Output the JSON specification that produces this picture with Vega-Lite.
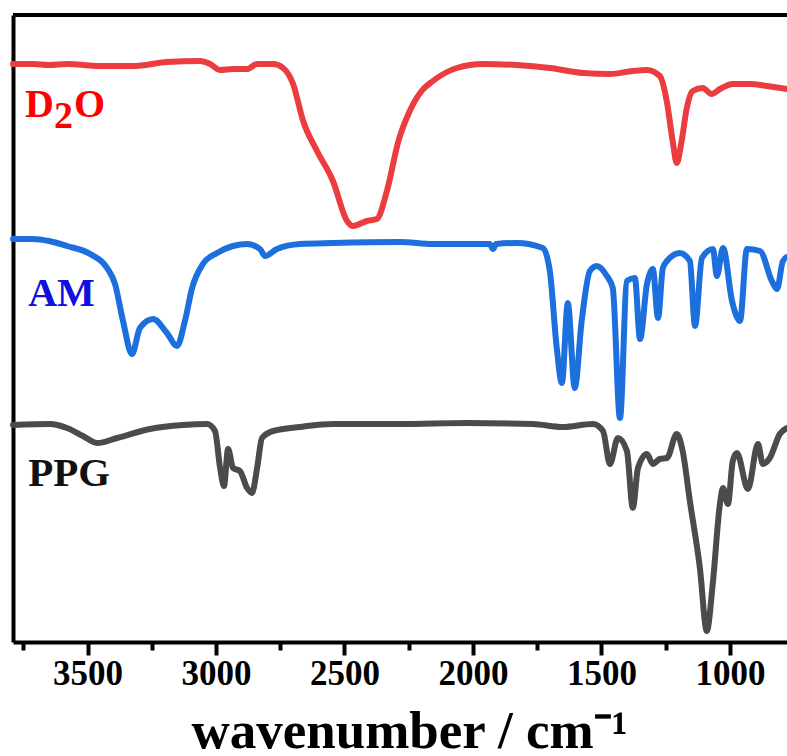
{
  "$schema": "https://vega.github.io/schema/vega-lite/v6.json",
  "width": 774,
  "height": 627,
  "autosize": {"type": "none"},
  "padding": {"left": 13, "top": 15, "right": 0, "bottom": 114},
  "background": "white",
  "config": {"view": {"stroke": null}, "axis": {"grid": false}},
  "datasets": {
    "spectra": [
      {"s":"D2O","w":3790,"v":578},{"s":"D2O","w":3712,"v":578},{"s":"D2O","w":3650,"v":577},{"s":"D2O","w":3580,"v":578},{"s":"D2O","w":3451,"v":576},{"s":"D2O","w":3323,"v":576},{"s":"D2O","w":3191,"v":580},{"s":"D2O","w":3062,"v":581},{"s":"D2O","w":3023,"v":578},{"s":"D2O","w":2984,"v":572},{"s":"D2O","w":2934,"v":573},{"s":"D2O","w":2879,"v":573},{"s":"D2O","w":2840,"v":578},{"s":"D2O","w":2778,"v":578},{"s":"D2O","w":2739,"v":574},{"s":"D2O","w":2700,"v":558},{"s":"D2O","w":2661,"v":521},{"s":"D2O","w":2607,"v":491},{"s":"D2O","w":2545,"v":461},{"s":"D2O","w":2490,"v":421},{"s":"D2O","w":2467,"v":416},{"s":"D2O","w":2413,"v":421},{"s":"D2O","w":2374,"v":423},{"s":"D2O","w":2335,"v":451},{"s":"D2O","w":2290,"v":501},{"s":"D2O","w":2246,"v":531},{"s":"D2O","w":2200,"v":551},{"s":"D2O","w":2156,"v":561},{"s":"D2O","w":2063,"v":574},{"s":"D2O","w":1961,"v":578},{"s":"D2O","w":1829,"v":577},{"s":"D2O","w":1701,"v":574},{"s":"D2O","w":1572,"v":569},{"s":"D2O","w":1467,"v":568},{"s":"D2O","w":1378,"v":571},{"s":"D2O","w":1323,"v":572},{"s":"D2O","w":1273,"v":566},{"s":"D2O","w":1246,"v":541},{"s":"D2O","w":1223,"v":501},{"s":"D2O","w":1207,"v":479},{"s":"D2O","w":1188,"v":501},{"s":"D2O","w":1168,"v":534},{"s":"D2O","w":1145,"v":551},{"s":"D2O","w":1106,"v":554},{"s":"D2O","w":1071,"v":548},{"s":"D2O","w":1039,"v":553},{"s":"D2O","w":989,"v":558},{"s":"D2O","w":922,"v":558},{"s":"D2O","w":856,"v":556},{"s":"D2O","w":778,"v":553},
      {"s":"AM","w":3790,"v":403},{"s":"AM","w":3712,"v":403},{"s":"AM","w":3650,"v":401},{"s":"AM","w":3580,"v":396},{"s":"AM","w":3490,"v":388},{"s":"AM","w":3424,"v":374},{"s":"AM","w":3393,"v":358},{"s":"AM","w":3362,"v":321},{"s":"AM","w":3327,"v":288},{"s":"AM","w":3296,"v":314},{"s":"AM","w":3245,"v":323},{"s":"AM","w":3191,"v":309},{"s":"AM","w":3152,"v":296},{"s":"AM","w":3121,"v":321},{"s":"AM","w":3093,"v":354},{"s":"AM","w":3051,"v":378},{"s":"AM","w":2996,"v":389},{"s":"AM","w":2934,"v":396},{"s":"AM","w":2879,"v":398},{"s":"AM","w":2829,"v":393},{"s":"AM","w":2809,"v":386},{"s":"AM","w":2763,"v":393},{"s":"AM","w":2673,"v":398},{"s":"AM","w":2545,"v":399},{"s":"AM","w":2284,"v":400},{"s":"AM","w":2156,"v":398},{"s":"AM","w":1935,"v":398},{"s":"AM","w":1922,"v":393},{"s":"AM","w":1910,"v":398},{"s":"AM","w":1829,"v":399},{"s":"AM","w":1728,"v":394},{"s":"AM","w":1701,"v":371},{"s":"AM","w":1674,"v":294},{"s":"AM","w":1654,"v":259},{"s":"AM","w":1631,"v":339},{"s":"AM","w":1604,"v":254},{"s":"AM","w":1577,"v":321},{"s":"AM","w":1545,"v":371},{"s":"AM","w":1518,"v":376},{"s":"AM","w":1479,"v":366},{"s":"AM","w":1456,"v":354},{"s":"AM","w":1428,"v":224},{"s":"AM","w":1401,"v":361},{"s":"AM","w":1370,"v":364},{"s":"AM","w":1350,"v":303},{"s":"AM","w":1323,"v":358},{"s":"AM","w":1300,"v":373},{"s":"AM","w":1280,"v":324},{"s":"AM","w":1261,"v":374},{"s":"AM","w":1245,"v":381},{"s":"AM","w":1195,"v":389},{"s":"AM","w":1156,"v":381},{"s":"AM","w":1136,"v":316},{"s":"AM","w":1109,"v":384},{"s":"AM","w":1066,"v":393},{"s":"AM","w":1051,"v":366},{"s":"AM","w":1027,"v":394},{"s":"AM","w":992,"v":341},{"s":"AM","w":961,"v":321},{"s":"AM","w":934,"v":393},{"s":"AM","w":883,"v":391},{"s":"AM","w":837,"v":361},{"s":"AM","w":817,"v":353},{"s":"AM","w":794,"v":381},{"s":"AM","w":778,"v":385},
      {"s":"PPG","w":3790,"v":217},{"s":"PPG","w":3646,"v":218},{"s":"PPG","w":3580,"v":214},{"s":"PPG","w":3518,"v":206},{"s":"PPG","w":3463,"v":199},{"s":"PPG","w":3385,"v":204},{"s":"PPG","w":3257,"v":213},{"s":"PPG","w":3128,"v":217},{"s":"PPG","w":3035,"v":218},{"s":"PPG","w":3004,"v":211},{"s":"PPG","w":2984,"v":174},{"s":"PPG","w":2969,"v":156},{"s":"PPG","w":2953,"v":193},{"s":"PPG","w":2934,"v":174},{"s":"PPG","w":2907,"v":171},{"s":"PPG","w":2879,"v":154},{"s":"PPG","w":2860,"v":149},{"s":"PPG","w":2840,"v":174},{"s":"PPG","w":2821,"v":204},{"s":"PPG","w":2778,"v":211},{"s":"PPG","w":2673,"v":215},{"s":"PPG","w":2545,"v":218},{"s":"PPG","w":2284,"v":218},{"s":"PPG","w":2024,"v":219},{"s":"PPG","w":1767,"v":218},{"s":"PPG","w":1650,"v":215},{"s":"PPG","w":1533,"v":218},{"s":"PPG","w":1494,"v":211},{"s":"PPG","w":1467,"v":178},{"s":"PPG","w":1436,"v":204},{"s":"PPG","w":1401,"v":191},{"s":"PPG","w":1378,"v":134},{"s":"PPG","w":1358,"v":174},{"s":"PPG","w":1323,"v":188},{"s":"PPG","w":1300,"v":178},{"s":"PPG","w":1273,"v":183},{"s":"PPG","w":1245,"v":184},{"s":"PPG","w":1207,"v":208},{"s":"PPG","w":1184,"v":191},{"s":"PPG","w":1156,"v":141},{"s":"PPG","w":1117,"v":74},{"s":"PPG","w":1090,"v":11},{"s":"PPG","w":1067,"v":58},{"s":"PPG","w":1039,"v":138},{"s":"PPG","w":1027,"v":154},{"s":"PPG","w":1008,"v":138},{"s":"PPG","w":989,"v":181},{"s":"PPG","w":973,"v":189},{"s":"PPG","w":930,"v":153},{"s":"PPG","w":891,"v":198},{"s":"PPG","w":872,"v":178},{"s":"PPG","w":845,"v":184},{"s":"PPG","w":806,"v":208},{"s":"PPG","w":778,"v":214}
    ],
    "one": [{}]
  },
  "layer": [
    {
      "data": {"name": "spectra"},
      "mark": {"type": "line", "strokeWidth": 6, "strokeCap": "round", "strokeJoin": "round", "interpolate": "monotone"},
      "encoding": {
        "x": {
          "field": "w", "type": "quantitative",
          "scale": {"domain": [778, 3790], "reverse": true, "zero": false, "nice": false},
          "axis": {
            "values": [3750, 3500, 3250, 3000, 2750, 2500, 2250, 2000, 1750, 1500, 1250, 1000],
            "format": "d",
            "labelExpr": "datum.value % 500 === 0 ? datum.label : ''",
            "domainColor": "black", "domainWidth": 4,
            "tickColor": "black", "tickWidth": 4,
            "tickSize": {"condition": {"test": "datum.value % 500 === 0", "value": 13}, "value": 8},
            "labelFont": "Liberation Serif", "labelFontWeight": "bold", "labelFontSize": 35, "labelColor": "black",
            "labelBaseline": "alphabetic", "labelPadding": 29, "labelFlush": false, "labelOverlap": false,
            "title": "wavenumber / cm⁻¹",
            "titleFont": "Liberation Serif", "titleFontWeight": "bold", "titleFontSize": 53, "titleColor": "black",
            "titleBaseline": "alphabetic", "titleY": 105, "titleX": 396, "titleAlign": "center", "titleAnchor": "middle"
          }
        },
        "y": {
          "field": "v", "type": "quantitative",
          "scale": {"domain": [0, 627], "nice": false, "zero": false},
          "axis": {"domain": true, "domainColor": "black", "domainWidth": 4, "ticks": false, "labels": false, "title": null}
        },
        "color": {
          "field": "s", "type": "nominal",
          "scale": {"domain": ["D2O", "AM", "PPG"], "range": ["#eb3d40", "#1c6fdc", "#4b4b4b"]},
          "legend": null
        }
      }
    },
    {
      "data": {"name": "one"},
      "mark": {"type": "rule", "strokeWidth": 4, "color": "black"},
      "encoding": {"y": {"datum": 627, "type": "quantitative"}}
    },
    {
      "data": {"name": "one"},
      "mark": {"type": "text", "text": "D", "font": "Liberation Serif", "fontWeight": "bold", "fontSize": 40, "color": "#ff0000", "align": "left", "baseline": "alphabetic"},
      "encoding": {"x": {"datum": 3743, "type": "quantitative"}, "y": {"datum": 525, "type": "quantitative"}}
    },
    {
      "data": {"name": "one"},
      "mark": {"type": "text", "text": "2", "font": "Liberation Serif", "fontWeight": "bold", "fontSize": 38, "color": "#ff0000", "align": "left", "baseline": "alphabetic"},
      "encoding": {"x": {"datum": 3630, "type": "quantitative"}, "y": {"datum": 514, "type": "quantitative"}}
    },
    {
      "data": {"name": "one"},
      "mark": {"type": "text", "text": "O", "font": "Liberation Serif", "fontWeight": "bold", "fontSize": 40, "color": "#ff0000", "align": "left", "baseline": "alphabetic"},
      "encoding": {"x": {"datum": 3553, "type": "quantitative"}, "y": {"datum": 525, "type": "quantitative"}}
    },
    {
      "data": {"name": "one"},
      "mark": {"type": "text", "text": "AM", "font": "Liberation Serif", "fontWeight": "bold", "fontSize": 40, "color": "#1010e0", "align": "left", "baseline": "alphabetic"},
      "encoding": {"x": {"datum": 3731, "type": "quantitative"}, "y": {"datum": 336, "type": "quantitative"}}
    },
    {
      "data": {"name": "one"},
      "mark": {"type": "text", "text": "PPG", "font": "Liberation Serif", "fontWeight": "bold", "fontSize": 41, "color": "#111111", "align": "left", "baseline": "alphabetic"},
      "encoding": {"x": {"datum": 3731, "type": "quantitative"}, "y": {"datum": 156, "type": "quantitative"}}
    }
  ]
}
